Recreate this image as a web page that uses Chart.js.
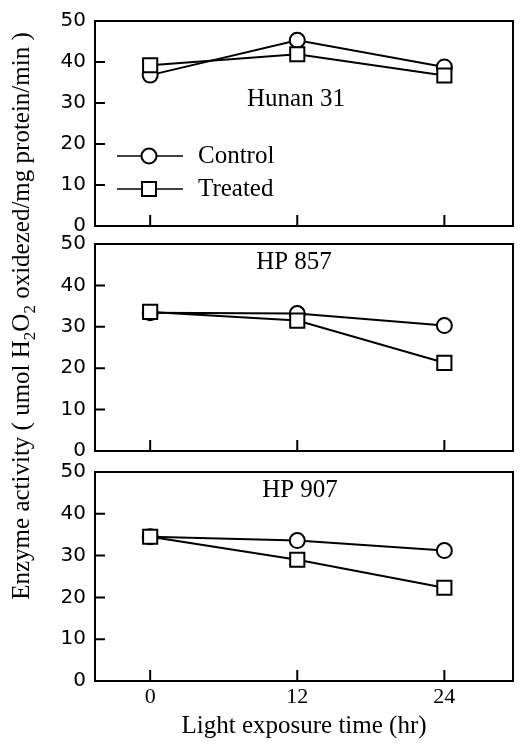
<!DOCTYPE html>
<html>
<head>
<meta charset="utf-8">
<script src="https://cdn.jsdelivr.net/npm/chart.js@4/dist/chart.umd.min.js"></script>
<style>
  body { margin: 0; background: #fff; }
  #wrap { position: relative; width: 525px; height: 744px; }
  #wrap canvas { position: absolute; left: 0; top: 0; }
</style>
</head>
<body>
<div id="wrap">
  <canvas id="p1" width="525" height="744"></canvas>
  <canvas id="p2" width="525" height="744"></canvas>
  <canvas id="p3" width="525" height="744"></canvas>
</div>
<script>
// données
const hours = [0, 12, 24];
const yTicks = [0, 10, 20, 30, 40, 50];
const seriesNames = ['Control', 'Treated'];
const panelNames = ['Hunan 31', 'HP 857', 'HP 907'];

const hunanControl = [36.8, 45.3, 38.8];
const hunanTreated = [39.2, 41.9, 36.7];
const hp857Control = [33.4, 33.2, 30.3];
const hp857Treated = [33.6, 31.5, 21.3];
const hp907Control = [34.5, 33.6, 31.2];
const hp907Treated = [34.5, 29.0, 22.3];

const xTitle = 'Light exposure time (hr)';

const serif = '"Liberation Serif", "Times New Roman", serif';
const sans = '"DejaVu Sans", sans-serif';

// cadre + petites graduations vers l'intérieur
const framePlugin = {
  id: 'frame',
  afterDraw(chart) {
    const ctx = chart.ctx;
    const a = chart.chartArea;
    const xs = chart.scales.x, ys = chart.scales.y;
    ctx.save();
    ctx.strokeStyle = '#000';
    ctx.lineWidth = 2;
    ctx.strokeRect(a.left, a.top, a.right - a.left, a.bottom - a.top);
    ctx.beginPath();
    yTicks.forEach(v => {
      const y = ys.getPixelForValue(v);
      ctx.moveTo(a.left, y);
      ctx.lineTo(a.left + 10, y);
    });
    hours.forEach(v => {
      const x = xs.getPixelForValue(v);
      ctx.moveTo(x, a.bottom);
      ctx.lineTo(x, a.bottom - 11);
    });
    ctx.stroke();
    // nom du panneau
    const o = chart.options.plugins.frame;
    ctx.fillStyle = '#000';
    ctx.font = '25px ' + serif;
    ctx.textAlign = 'center';
    ctx.textBaseline = 'middle';
    ctx.fillText(o.name, o.nameX, a.top + o.nameDy);
    ctx.restore();
  }
};

function drawMarker(ctx, style, x, y) {
  ctx.beginPath();
  if (style === 'circle') {
    ctx.arc(x, y, 7.5, 0, Math.PI * 2);
  } else {
    ctx.rect(x - 7, y - 7, 14, 14);
  }
  ctx.fillStyle = '#fff';
  ctx.fill();
  ctx.lineWidth = 2;
  ctx.strokeStyle = '#000';
  ctx.stroke();
}

// légende dessinée à la main (trait + symbole)
const legendPlugin = {
  id: 'handLegend',
  afterDraw(chart) {
    const ctx = chart.ctx;
    const styles = ['circle', 'rect'];
    const rows = [156, 189];
    ctx.save();
    seriesNames.forEach((name, i) => {
      const y = rows[i];
      ctx.beginPath();
      ctx.moveTo(117, y);
      ctx.lineTo(183, y);
      ctx.lineWidth = 1.6;
      ctx.strokeStyle = '#000';
      ctx.stroke();
      drawMarker(ctx, styles[i], 149, y);
      ctx.fillStyle = '#000';
      ctx.font = '25px ' + serif;
      ctx.textAlign = 'left';
      ctx.textBaseline = 'middle';
      ctx.fillText(name, 198, y);
    });
    ctx.restore();
  }
};

// titre de l'axe y, commun aux trois panneaux, avec indices
const yTitlePlugin = {
  id: 'yTitle',
  afterDraw(chart) {
    const ctx = chart.ctx;
    const parts = [
      ['Enzyme activity ( umol H', false],
      ['2', true],
      ['O', false],
      ['2', true],
      [' oxidezed/mg protein/min )', false]
    ];
    const big = '25px ' + serif, small = '17px ' + serif;
    let total = 0;
    parts.forEach(p => { ctx.font = p[1] ? small : big; total += ctx.measureText(p[0]).width; });
    ctx.save();
    ctx.translate(21, 316);
    ctx.rotate(-Math.PI / 2);
    ctx.fillStyle = '#000';
    ctx.textBaseline = 'alphabetic';
    ctx.textAlign = 'left';
    let x = -total / 2;
    parts.forEach(p => {
      ctx.font = p[1] ? small : big;
      ctx.fillText(p[0], x, p[1] ? 14 : 8);
      x += ctx.measureText(p[0]).width;
    });
    ctx.restore();
  }
};

function makePanel(id, control, treated, top, bottom, isLast, name, nameX, nameDy, extra) {
  const xHeight = isLast ? 63 : 0;
  const ptStyle = { backgroundColor: '#fff', borderColor: '#000', borderWidth: 2, pointBorderWidth: 2 };
  return new Chart(document.getElementById(id), {
    type: 'line',
    data: {
      datasets: [
        Object.assign({
          label: seriesNames[1],
          data: hours.map((h, i) => ({ x: h, y: treated[i] })),
          pointStyle: 'rect', pointRadius: 10, pointBackgroundColor: '#fff', pointBorderColor: '#000'
        }, ptStyle),
        Object.assign({
          label: seriesNames[0],
          data: hours.map((h, i) => ({ x: h, y: control[i] })),
          pointStyle: 'circle', pointRadius: 7.5, pointBackgroundColor: '#fff', pointBorderColor: '#000'
        }, ptStyle)
      ]
    },
    options: {
      responsive: false,
      animation: false,
      layout: { padding: { left: 0, right: 12, top: top, bottom: 744 - bottom - xHeight } },
      plugins: {
        legend: { display: false },
        tooltip: { enabled: false },
        frame: { name: name, nameX: nameX, nameDy: nameDy }
      },
      scales: {
        x: {
          type: 'linear',
          min: -4.5,
          max: 29.6,
          afterBuildTicks: s => { s.ticks = hours.map(v => ({ value: v })); },
          afterFit: s => { s.height = xHeight; },
          grid: { display: false, tickLength: 0 },
          border: { display: false },
          ticks: { display: isLast, color: '#000', padding: 3, font: { family: serif, size: 22 } },
          title: {
            display: isLast, text: xTitle, color: '#000',
            font: { family: serif, size: 25 }, padding: { top: 0, bottom: 3 }
          }
        },
        y: {
          min: 0,
          max: 50,
          afterBuildTicks: s => { s.ticks = yTicks.map(v => ({ value: v })); },
          afterFit: s => { s.width = 95; },
          grid: { display: false, tickLength: 0 },
          border: { display: false },
          ticks: { color: '#000', padding: 9, font: { family: sans, size: 20 } }
        }
      }
    },
    plugins: [framePlugin].concat(extra)
  });
}

makePanel('p1', hunanControl, hunanTreated, 19, 226, false, panelNames[0], 296, 78, [legendPlugin]);
makePanel('p2', hp857Control, hp857Treated, 244, 451, false, panelNames[1], 294, 18, []);
makePanel('p3', hp907Control, hp907Treated, 472, 681, true, panelNames[2], 300, 18, [yTitlePlugin]);
</script>
</body>
</html>
